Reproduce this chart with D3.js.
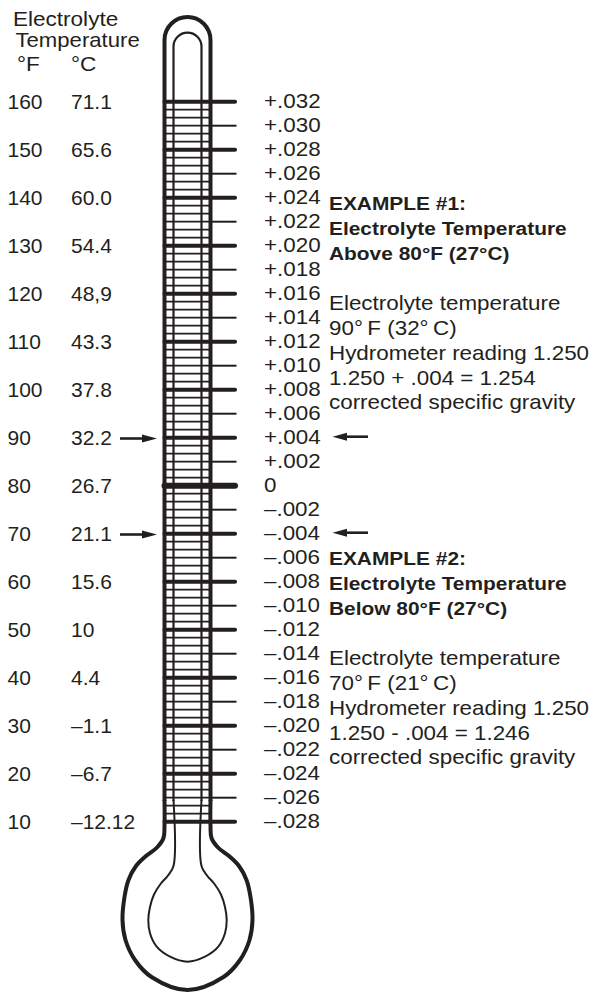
<!DOCTYPE html>
<html><head><meta charset="utf-8">
<script src="https://cdn.jsdelivr.net/npm/d3@7"></script>
<style>
body{margin:0;background:#fff}
svg{display:block}
text{font-family:"Liberation Sans",Arial,Helvetica,sans-serif;fill:#231f20}
</style>
</head><body><svg id="c" width="596" height="994"></svg>
<script>
// ---- data ----
const tempsF = [160,150,140,130,120,110,100,90,80,70,60,50,40,30,20,10];
const tempsC = ["71.1","65.6","60.0","54.4","48,9","43.3","37.8","32.2","26.7","21.1","15.6","10","4.4","–1.1","–6.7","–12.12"];
const corrections = [0.032,0.030,0.028,0.026,0.024,0.022,0.020,0.018,0.016,0.014,0.012,0.010,0.008,0.006,0.004,0.002,0,
  -0.002,-0.004,-0.006,-0.008,-0.010,-0.012,-0.014,-0.016,-0.018,-0.020,-0.022,-0.024,-0.026,-0.028];
const correctionLabels = ["+.032","+.030","+.028","+.026","+.024","+.022","+.020","+.018","+.016","+.014","+.012","+.010","+.008","+.006","+.004","+.002","0",
  "–.002","–.004","–.006","–.008","–.010","–.012","–.014","–.016","–.018","–.020","–.022","–.024","–.026","–.028"];
const arrowTempsF = [90,70];
const arrowCorrections = [0.004,-0.004];
const headerLines = ["Electrolyte","Temperature"];
const unitLabels = ["°F","°C"];
const example1Bold = ["EXAMPLE #1:","Electrolyte Temperature","Above 80°F (27°C)"];
const example1Text = ["Electrolyte temperature","90°\u2009F (32°\u2009C)","Hydrometer reading 1.250","1.250 + .004 = 1.254","corrected specific gravity"];
const example2Bold = ["EXAMPLE #2:","Electrolyte Temperature","Below 80°F (27°C)"];
const example2Text = ["Electrolyte temperature","70°\u2009F (21°\u2009C)","Hydrometer reading 1.250","1.250 - .004 = 1.246","corrected specific gravity"];

// ---- layout ----
const ink = "#231f20";
const svg = d3.select("#c");
const y = d3.scaleLinear().domain([0.032,-0.028]).range([101.7,821.7]);
const yF = d3.scaleLinear().domain([160,10]).range([101.7,821.7]);
const cx = 187.5, RO = 23, RI = 14;
const xOL = cx-RO, xOR = cx+RO, xIL = cx-RI, xIR = cx+RI;

function label(x, yy, str, size, sx, bold){
  return svg.append("text")
    .attr("transform", `translate(${x},${yy}) scale(${sx},1)`)
    .style("font-size", size+"px")
    .style("font-weight", bold ? "bold" : "normal")
    .text(str);
}

// ---- thermometer outline ----
const line = d3.line().curve(d3.curveCatmullRom.alpha(0.5));
const mirror = pts => pts.slice().reverse().map(([x,yy]) => [2*cx-x, yy]);
const outerLeft = [[xOL,800],[xOL,826],[xOL-1,838],[157,847.5],[146,856],[136,866],[128.5,880],[124.5,897],[122.5,920],[125.5,940],[135,960],[151.5,977]];
const outerPts = [...outerLeft, [cx,990], ...mirror(outerLeft)];
const innerLeft = [[xIL,800],[xIL,866],[168,875.5],[160.5,884],[154,894.5],[150,907],[148.3,920],[150,933.3],[156.7,946.7],[170,956.7]];
const innerPts = [...innerLeft, [cx,961.7], ...mirror(innerLeft)];

const g = svg.append("g").attr("fill","none").attr("stroke",ink);
// rungs
const rungs = d3.range(0,91).map(i => 0.032 - i*0.002/3);
g.selectAll("line.rung").data(rungs).join("line").attr("class","rung")
  .attr("x1",xOL).attr("x2",xOR).attr("y1",d=>y(d)).attr("y2",d=>y(d)).attr("stroke-width",1.8);
// inner walls
g.append("path").attr("d",`M${xIL},801 L${xIL},46.7 A${RI},${RI} 0 0 1 ${xIR},46.7 L${xIR},801`).attr("stroke-width",2.2);
g.append("path").attr("d",line(innerPts)).attr("stroke-width",2);
// outer walls
g.append("path").attr("d",`M${xOL},801 L${xOL},40 A${RO},${RO} 0 0 1 ${xOR},40 L${xOR},801`).attr("stroke-width",4);
g.append("path").attr("d",line(outerPts)).attr("stroke-width",4);

// ticks
corrections.forEach((v,i)=>{
  const major = i%2===0;
  g.append("line")
    .attr("x1", major ? xOL : xOR).attr("x2", major ? 235 : 236.5)
    .attr("y1", y(v)).attr("y2", y(v))
    .attr("stroke-width", v===0 ? 6 : (major ? 4 : 2))
    .attr("stroke-linecap", major ? "round" : "butt");
});

// right labels
corrections.forEach((v,i)=> label(264, y(v)+6, correctionLabels[i], 20, 1.12));

// left labels
tempsF.forEach((f,i)=>{
  label(7.5, yF(f)+7.5, String(f), 21, 1.0);
  label(71, yF(f)+7.5, tempsC[i], 21, 1.0);
});

// header
label(13, 26, headerLines[0], 20.5, 1.1);
label(15.5, 47, headerLines[1], 20.5, 1.08);
label(17, 71, unitLabels[0], 20.5, 1.1);
label(71, 71, unitLabels[1], 20.5, 1.1);

// arrows
const ag = svg.append("g").attr("fill",ink).attr("stroke",ink);
arrowTempsF.forEach(f=>{
  const yy = yF(f)+0.8;
  ag.append("line").attr("x1",120).attr("x2",146).attr("y1",yy).attr("y2",yy).attr("stroke-width",2.6);
  ag.append("path").attr("stroke","none").attr("d",`M157,${yy} L142,${yy-4} L142,${yy+4} Z`);
});
arrowCorrections.forEach(v=>{
  const yy = y(v)-1;
  ag.append("line").attr("x1",343).attr("x2",368).attr("y1",yy).attr("y2",yy).attr("stroke-width",2.6);
  ag.append("path").attr("stroke","none").attr("d",`M332.5,${yy} L347,${yy-4} L347,${yy+4} Z`);
});

// examples
const b1 = [210,235,260], t1 = [310,335,360,385,409];
const b2 = [565,590,615], t2 = [665,690,715,740,764];
example1Bold.forEach((s,i)=> label(329, b1[i], s, 19, 1.1, true));
example1Text.forEach((s,i)=> label(329, t1[i], s, 20, 1.12));
example2Bold.forEach((s,i)=> label(329, b2[i], s, 19, 1.1, true));
example2Text.forEach((s,i)=> label(329, t2[i], s, 20, 1.12));
</script>
</body></html>
